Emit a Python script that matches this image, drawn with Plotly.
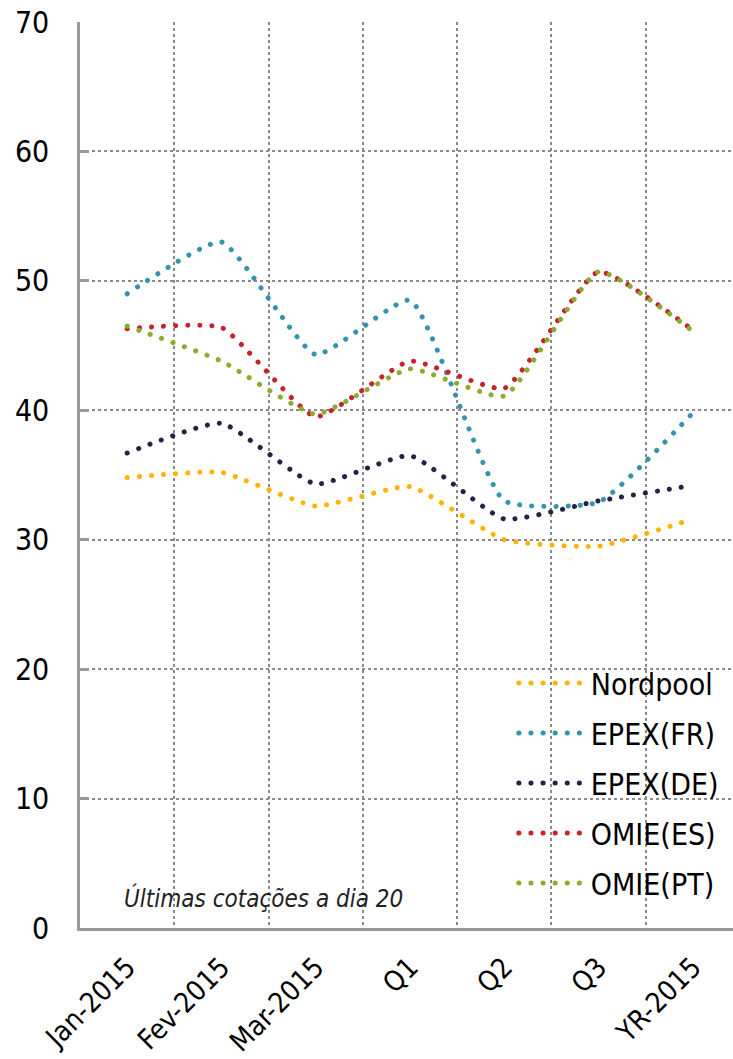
import plotly.graph_objects as go

categories = ["Jan-2015", "Fev-2015", "Mar-2015", "Q1", "Q2", "Q3", "YR-2015"]
nordpool = [34.8, 35.2, 32.6, 34.1, 30.0, 29.5, 31.6]
epex_fr = [49.0, 53.0, 44.3, 48.5, 33.0, 32.9, 39.8]
epex_de = [36.7, 39.0, 34.3, 36.5, 31.6, 33.0, 34.2]
omie_es = [46.3, 46.4, 39.5, 43.8, 41.7, 50.7, 46.2]
omie_pt = [46.5, 43.8, 39.7, 43.2, 41.1, 50.7, 46.1]
series_names = ["Nordpool", "EPEX(FR)", "EPEX(DE)", "OMIE(ES)", "OMIE(PT)"]
series_values = [nordpool, epex_fr, epex_de, omie_es, omie_pt]
colors = ["#FFB400", "#3593AE", "#1F2542", "#C8232B", "#8AAE2C"]
y_ticks = [0, 10, 20, 30, 40, 50, 60, 70]

FONT = "DejaVu Sans Condensed, DejaVu Sans, sans-serif"

fig = go.Figure()
for name, vals, col in zip(series_names, series_values, colors):
    fig.add_trace(go.Scatter(
        x=categories, y=vals, name=name, mode="lines", legendgroup=name,
        line=dict(color=col, width=5, dash="dot", shape="spline", smoothing=0.45),
        hoverinfo="skip",
    ))

fig.update_layout(
    width=733, height=1059,
    margin=dict(l=80, r=0, t=22, b=131),
    paper_bgcolor="white", plot_bgcolor="white",
    font=dict(family=FONT, size=30, color="black"),
    showlegend=True,
    legend=dict(
        x=0.721, y=0.299, xanchor="left", yanchor="top",
        bgcolor="rgba(0,0,0,0)", font=dict(size=30, family=FONT),
        tracegroupgap=8, itemwidth=30,
    ),
    annotations=[dict(
        text="Últimas cotações a dia 20", xref="paper", yref="paper",
        x=0.064, y=0.033, xanchor="left", yanchor="middle", showarrow=False,
        font=dict(size=24, family=FONT, color="#222", style="italic"),
    )],
)
fig.update_xaxes(
    type="category", categoryorder="array", categoryarray=categories,
    range=[-0.5, 6.426], tickson="boundaries", automargin=False,
    showgrid=True, gridcolor="#8a8a8a", griddash="dot", gridwidth=1.5,
    showline=True, linecolor="#9a9a9a", linewidth=2.5,
    ticks="", tickangle=-45, tickfont=dict(size=28, family=FONT),
    ticklabelstandoff=9,
    zeroline=False,
)
fig.update_yaxes(
    range=[0, 70], tickvals=y_ticks, ticktext=[str(v) for v in y_ticks],
    automargin=False,
    showgrid=True, gridcolor="#8a8a8a", griddash="dot", gridwidth=1.5,
    showline=True, linecolor="#9a9a9a", linewidth=2.5,
    ticks="inside", ticklen=9, tickwidth=2.5, tickcolor="#9a9a9a",
    ticklabelstandoff=22, tickfont=dict(size=30, family=FONT),
    zeroline=False,
)

post = """
document.body.style.margin = '0';
document.body.style.padding = '0';
var s = document.createElement('style');
s.textContent = '.scatterlayer .js-line, .legendlines path { stroke-linecap: round !important; stroke-dasharray: 0.1px 12px !important; }';
document.head.appendChild(s);
var gd = document.getElementById('{plot_id}');
function fixLegend(){
  try {
    gd.querySelectorAll('.legend [clip-path]').forEach(function(e){ e.removeAttribute('clip-path'); });
    gd.querySelectorAll('.legendlines path').forEach(function(p){ p.setAttribute('d', 'M-32,0h62'); });
  } catch(e) {}
}
fixLegend();
try { gd.on('plotly_afterplot', fixLegend); } catch(e) {}
setTimeout(fixLegend, 50);
setTimeout(fixLegend, 300);
"""
fig.write_html("out.html", post_script=post, config={"displayModeBar": False})
